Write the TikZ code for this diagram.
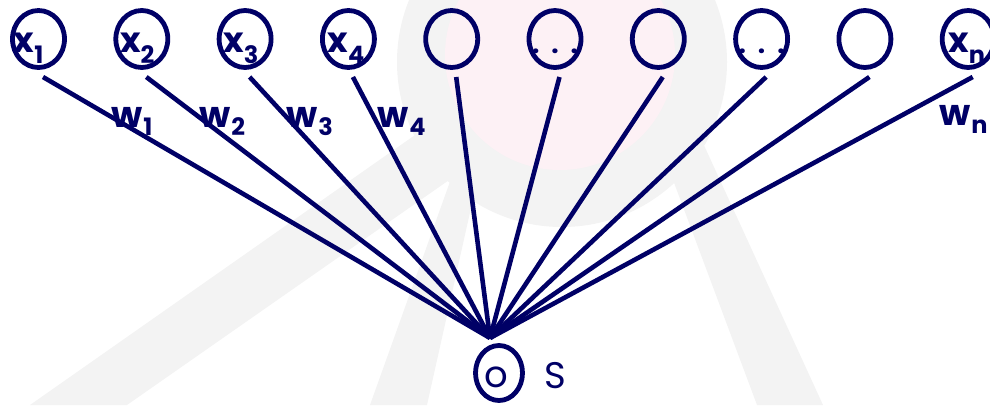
\documentclass[tikz,border=0pt]{standalone}
\usepackage{fontspec}
\setmainfont{Poppins}
\usetikzlibrary{shapes.geometric}
\definecolor{navy}{RGB}{0,0,102}
\definecolor{wmgray}{RGB}{243,243,243}
\definecolor{wmpink}{RGB}{253,241,245}
\newcommand{\subx}[2]{#1\kern0pt\raisebox{-11pt}{\fontsize{24}{24}\selectfont #2}}
\newcommand{\subw}[2]{#1\kern1pt\raisebox{-8pt}{\fontsize{24}{24}\selectfont #2}}
\begin{document}
\begin{tikzpicture}[x=1pt,y=-1pt,
  unit/.style={ellipse, draw=navy, line width=4.8pt, minimum width=52pt, minimum height=57pt, inner sep=0pt},
  outunit/.style={ellipse, draw=navy, line width=4.8pt, minimum width=47pt, minimum height=55pt, inner sep=0pt},
  conn/.style={draw=navy, line width=4.6pt},
  lab/.style={text=navy, font=\bfseries\fontsize{35}{35}\selectfont, inner sep=0pt, anchor=base west},
  wlab/.style={text=navy, font=\bfseries\fontsize{36}{36}\selectfont, inner sep=0pt, anchor=base west},
  dots/.style={text=navy, font=\bfseries\fontsize{26}{26}\selectfont, inner sep=0pt},
  olab/.style={text=navy, font=\fontsize{37}{37}\selectfont, inner sep=0pt}]
\useasboundingbox (0,0) rectangle (990,405);
% faint watermark
\fill[wmgray] (562,62) circle (165);
\fill[wmgray] (30,405) -- (127,405) -- (452,178) -- (445,114) -- cycle;
\fill[wmgray] (370,405) -- (427,405) -- (475,190) -- (452,176) -- cycle;
\fill[wmgray] (757,405) -- (823,405) -- (697,130) -- (673,180) -- cycle;
\fill[wmpink] (560,55) circle (115);
% input units
\node[unit] (x1) at (38.5,39) {};
\node[unit] (x2) at (141.8,39) {};
\node[unit] (x3) at (245.1,39) {};
\node[unit] (x4) at (348.4,39) {};
\node[unit] (x5) at (451.7,39) {};
\node[unit] (x6) at (555,39) {};
\node[unit] (x7) at (658.3,39) {};
\node[unit] (x8) at (761.6,39) {};
\node[unit] (x9) at (864.9,39) {};
\node[unit] (x10) at (968.2,39) {};
% labels inside
\node[lab] (lx1) at ([shift={(-25,13)}]x1.center) {\subx{x}{1}};
\node[lab] (lx2) at ([shift={(-22,13)}]x2.center) {\subx{x}{2}};
\node[lab] (lx3) at ([shift={(-22,13)}]x3.center) {\subx{x}{3}};
\node[lab] (lx4) at ([shift={(-21,13)}]x4.center) {\subx{x}{4}};
\node[lab] (lx10) at ([shift={(-20,13)}]x10.center) {\subx{x}{n}};
\node[dots] (d6) at ([shift={(0,12)}]x6.center) {.\kern12pt.\kern12pt.};
\node[dots] (d8) at ([shift={(0,12)}]x8.center) {.\kern12pt.\kern12pt.};
% output unit
\coordinate (apex) at (490,338);
\node[outunit] (o) at (499,373) {};
\node[olab] (lo) at (496,377) {o};
\node[olab] (ls) at (555,376) {S};
% connectors
\foreach \i in {1,...,10}{
  \draw[conn] ([shift={(4.5,38)}]x\i.center) -- (apex);
}
% weights
\node[wlab] (w1) at (111,127) {\subw{w}{1}};
\node[wlab] (w2) at (199,127) {\subw{w}{2}};
\node[wlab] (w3) at (286,127) {\subw{w}{3}};
\node[wlab] (w4) at (377,127) {\subw{w}{4}};
\node[wlab] (wn) at (939,125) {\subw{w}{n}};
\end{tikzpicture}
\end{document}
